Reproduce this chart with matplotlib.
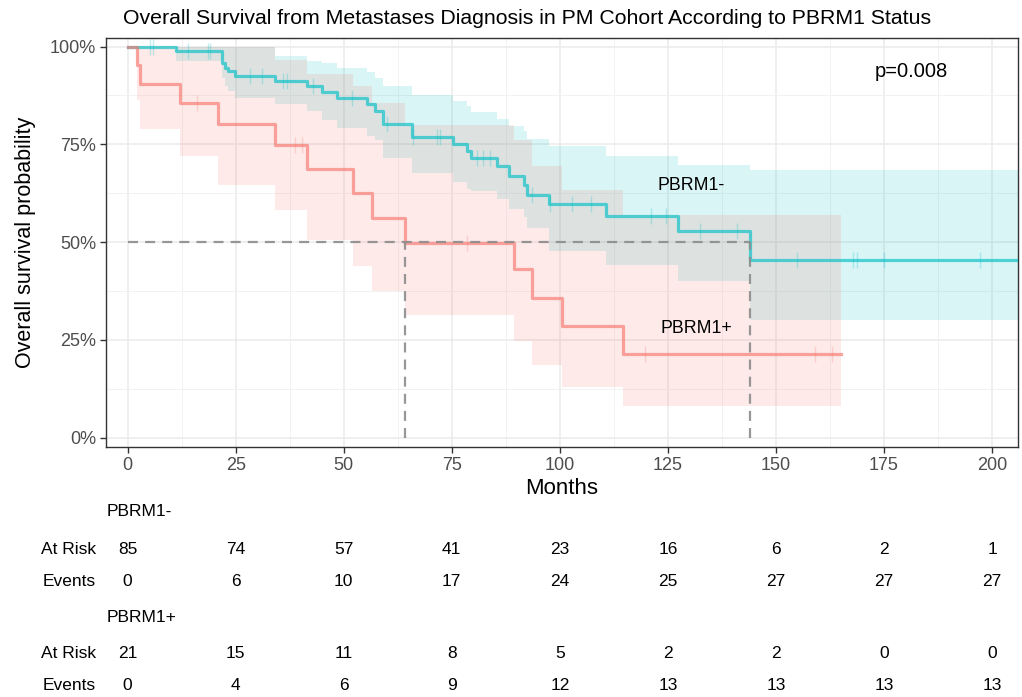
import matplotlib.pyplot as plt
import numpy as np
from matplotlib.transforms import blended_transform_factory

plt.rcParams['font.family'] = ['Liberation Sans', 'DejaVu Sans']

# --- PBRM1- (KM steps: time, survival, 95% CI) ---
neg_time = [0, 11.2, 21.8, 22.5, 23.3, 24.8, 34.1, 41.4, 44.9, 48.4, 55.3, 57.2, 59.2,
            65.7, 75.2, 78.6, 79.4, 85.4, 88.3, 91.6, 92.4, 97.4, 110.7, 127.4, 143.9]
neg_surv = [1.0, 0.988, 0.958, 0.946, 0.937, 0.924, 0.911, 0.898, 0.884, 0.869, 0.852, 0.836, 0.803,
            0.769, 0.751, 0.732, 0.714, 0.694, 0.668, 0.647, 0.621, 0.597, 0.567, 0.528, 0.453]
neg_lower = [1.0, 0.963, 0.92, 0.90, 0.886, 0.869, 0.852, 0.835, 0.813, 0.792, 0.771, 0.76, 0.715,
             0.677, 0.655, 0.635, 0.63, 0.609, 0.585, 0.565, 0.535, 0.476, 0.442, 0.40, 0.30]
neg_upper = [1.0, 1.0, 1.0, 1.0, 1.0, 1.0, 0.975, 0.962, 0.957, 0.945, 0.934, 0.92, 0.898,
             0.877, 0.86, 0.847, 0.834, 0.816, 0.798, 0.783, 0.764, 0.745, 0.721, 0.698, 0.684]
neg_end = 210
neg_cens = [5.2, 5.9, 14.0, 18.6, 19.1, 28.3, 31.0, 36.0, 36.8, 42.9, 51.9, 60.0, 66.1, 71.5,
            72.3, 80.8, 82.3, 83.9, 93.5, 97.8, 102.8, 107.3, 121.0, 124.5, 132.5, 141.0,
            154.9, 167.8, 168.8, 175.1, 197.1]

# --- PBRM1+ ---
pos_time = [0, 2.1, 2.85, 12.1, 21.0, 34.1, 41.6, 52.2, 56.5, 64.2, 89.3, 93.5, 100.5, 114.7]
pos_surv = [1.0, 0.952, 0.905, 0.857, 0.801, 0.749, 0.687, 0.626, 0.562, 0.498, 0.43, 0.357, 0.286, 0.215]
pos_lower = [1.0, 0.864, 0.788, 0.72, 0.647, 0.583, 0.506, 0.438, 0.374, 0.313, 0.246, 0.185, 0.13, 0.082]
pos_upper = [1.0, 1.0, 1.0, 1.0, 1.0, 0.965, 0.93, 0.90, 0.855, 0.80, 0.76, 0.694, 0.634, 0.57]
pos_end = 165
pos_cens = [16.0, 38.7, 40.3, 78.5, 119.7, 159.1, 163.0]

medians = {'PBRM1+': 64.2, 'PBRM1-': 143.9}

# --- risk table ---
table_times = [0, 25, 50, 75, 100, 125, 150, 175, 200]
neg_risk = [85, 74, 57, 41, 23, 16, 6, 2, 1]
neg_events = [0, 6, 10, 17, 24, 25, 27, 27, 27]
pos_risk = [21, 15, 11, 8, 5, 2, 2, 0, 0]
pos_events = [0, 4, 6, 9, 12, 13, 13, 13, 13]

col_neg = '#00BFC4'
col_pos = '#F8766D'

fig = plt.figure(figsize=(10.22, 6.97), dpi=100)
ax = fig.add_axes([106 / 1022, 1 - 447 / 697, 912 / 1022, 409 / 697])


def draw_group(t, s, lo, hi, end, cens, col):
    tt = np.append(t, end)
    ax.fill_between(tt, np.append(lo, lo[-1]), np.append(hi, hi[-1]), step='post',
                    color=col, alpha=0.15, lw=0, zorder=2)
    ax.step(tt, np.append(s, s[-1]), where='post', color=col, alpha=0.65, lw=2.3, zorder=3)
    idx = np.searchsorted(t, cens, side='right') - 1
    ax.plot(cens, np.array(s)[idx], ls='none', marker='|', ms=11, mew=1.0,
            color=col, alpha=0.25, zorder=3)


draw_group(neg_time, neg_surv, neg_lower, neg_upper, neg_end, neg_cens, col_neg)
draw_group(pos_time, pos_surv, pos_lower, pos_upper, pos_end, pos_cens, col_pos)

# median lines
dash = dict(color='#8C8C8C', lw=1.6, ls=(0, (4.5, 3.2)), alpha=0.9, zorder=4)
ax.plot([0, medians['PBRM1-']], [0.5, 0.5], **dash)
for m in medians.values():
    ax.plot([m, m], [0, 0.5], **dash)

ax.text(181.3, 0.936, 'p=0.008', fontsize=14.5, ha='center', va='center')
ax.text(130.4, 0.646, 'PBRM1-', fontsize=12.8, ha='center', va='center')
ax.text(131.7, 0.28, 'PBRM1+', fontsize=12.8, ha='center', va='center')

ax.set_xlim(-5, 206)
ax.set_ylim(-0.024, 1.022)
ax.set_xticks(table_times)
ax.set_xticks(np.arange(12.5, 200, 25), minor=True)
ax.set_yticks([0, 0.25, 0.5, 0.75, 1.0])
ax.set_yticklabels(['0%', '25%', '50%', '75%', '100%'])
ax.set_yticks([0.125, 0.375, 0.625, 0.875], minor=True)
ax.grid(True, which='major', color='#EBEBEB', lw=1.1, zorder=0)
ax.grid(True, which='minor', color='#F2F2F2', lw=0.7, zorder=0)
ax.set_axisbelow(True)
ax.tick_params(which='major', length=4, width=1, color='#333333', labelsize=13,
               labelcolor='#4D4D4D', pad=3)
ax.tick_params(which='minor', length=0)
for sp in ax.spines.values():
    sp.set_color('#333333')
    sp.set_linewidth(1.0)

ax.set_xlabel('Months', fontsize=16, labelpad=3)
ax.set_ylabel('Overall survival probability', fontsize=15.5, labelpad=10)

fig.text(527 / 1022, 1 - 18 / 697,
         'Overall Survival from Metastases Diagnosis in PM Cohort According to PBRM1 Status',
         fontsize=15.3, ha='center', va='center')

# risk table below the plot
tr = blended_transform_factory(ax.transData, fig.transFigure)
rows = [
    ('PBRM1-', None, 512),
    ('At Risk', neg_risk, 550),
    ('Events', neg_events, 581),
    ('PBRM1+', None, 618),
    ('At Risk', pos_risk, 653),
    ('Events', pos_events, 685),
]
for label, vals, ypx in rows:
    yf = 1 - ypx / 697
    if vals is None:
        fig.text(107 / 1022, yf, label, fontsize=12.5, ha='left', va='center')
    else:
        fig.text(96 / 1022, yf, label, fontsize=12.5, ha='right', va='center')
        for x, v in zip(table_times, vals):
            ax.text(x, yf, str(v), transform=tr, fontsize=12.5, ha='center', va='center',
                    clip_on=False)

fig.savefig('out.png', dpi=100)
